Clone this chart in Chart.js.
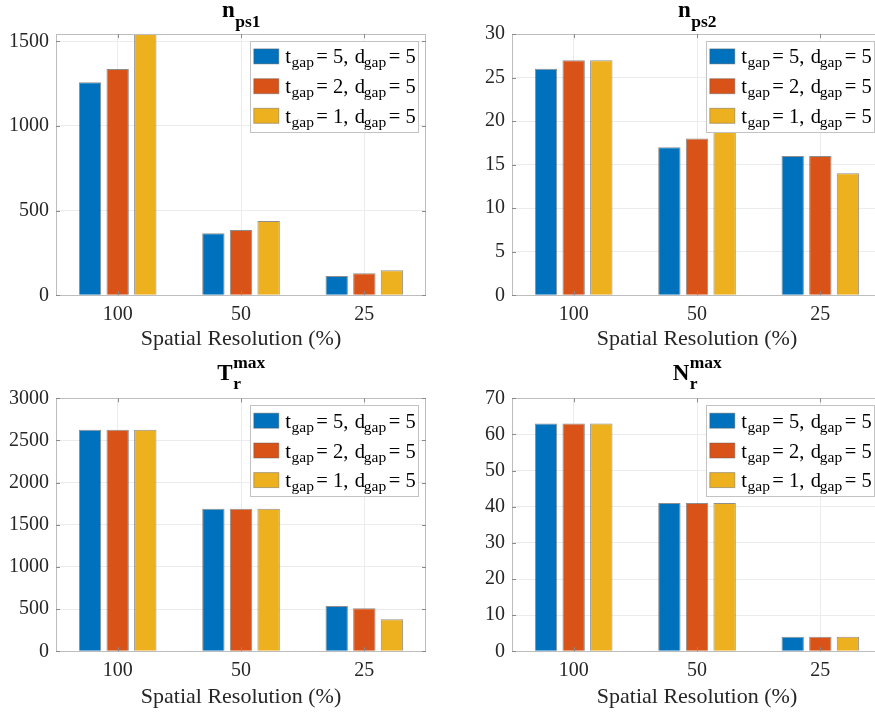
<!DOCTYPE html>
<html><head><meta charset="utf-8">
<script src="https://cdn.jsdelivr.net/npm/chart.js@4/dist/chart.umd.min.js"></script>
<style>
html,body{margin:0;padding:0;background:#fff;overflow:hidden;width:875px;height:713px;position:relative;}
canvas{position:absolute;}
</style></head><body>
<canvas id="c1" width="440" height="355" style="left:0;top:0"></canvas>
<canvas id="c2" width="450" height="355" style="left:440px;top:0"></canvas>
<canvas id="c3" width="440" height="358" style="left:0;top:355px"></canvas>
<canvas id="c4" width="450" height="358" style="left:440px;top:355px"></canvas>
<script>
// ---- data ----
const categories = ['100', '50', '25'];
const tGap = [5, 2, 1];
const dGap = [5, 5, 5];
const xAxisTitle = 'Spatial Resolution (%)';

const nps1_t5 = [1258, 366, 114];
const nps1_t2 = [1336, 386, 130];
const nps1_t1 = [1543, 439, 148];
const nps1Ticks = [0, 500, 1000, 1500];
const nps1Max = 1543;

const nps2_t5 = [26, 17, 16];
const nps2_t2 = [27, 18, 16];
const nps2_t1 = [27, 19, 14];
const nps2Ticks = [0, 5, 10, 15, 20, 25, 30];
const nps2Max = 30;

const Tr_t5 = [2628, 1691, 537];
const Tr_t2 = [2628, 1691, 510];
const Tr_t1 = [2628, 1691, 379];
const TrTicks = [0, 500, 1000, 1500, 2000, 2500, 3000];
const TrMax = 3000;

const Nr_t5 = [63, 41, 4];
const Nr_t2 = [63, 41, 4];
const Nr_t1 = [63, 41, 4];
const NrTicks = [0, 10, 20, 30, 40, 50, 60, 70];
const NrMax = 70;

const colors = ['#0072BD', '#D95319', '#EDB120'];
const SERIF = '"Liberation Serif", "Times New Roman", serif';

// ---- plugins ----
const framePlugin = {
  id: 'frame',
  afterDatasetsDraw(chart) {
    const {ctx, chartArea: a, scales} = chart;
    ctx.save();
    ctx.strokeStyle = '#bdbdbd';
    ctx.lineWidth = 1;
    ctx.strokeRect(Math.round(a.left) + 0.5, Math.round(a.top) + 0.5,
                   Math.round(a.right - a.left) - 1, Math.round(a.bottom - a.top));
    ctx.strokeStyle = '#8a8a8a';
    ctx.beginPath();
    scales.y.ticks.forEach(t => {
      const y = Math.round(scales.y.getPixelForValue(t.value)) + 0.5;
      ctx.moveTo(a.left, y); ctx.lineTo(a.left + 4, y);
      ctx.moveTo(a.right, y); ctx.lineTo(a.right - 4, y);
    });
    categories.forEach((c, i) => {
      const x = Math.round(scales.x.getPixelForValue(i)) + 0.5;
      ctx.moveTo(x, a.bottom); ctx.lineTo(x, a.bottom - 4);
      ctx.moveTo(x, a.top); ctx.lineTo(x, a.top + 4);
    });
    ctx.stroke();
    ctx.restore();
  }
};

const titlePlugin = {
  id: 'mtitle',
  afterDraw(chart, args, opts) {
    const {ctx, chartArea: a} = chart;
    const base = opts.base, sup = opts.sup || '', sub = opts.sub || '';
    ctx.save();
    ctx.fillStyle = '#000';
    ctx.textBaseline = 'alphabetic';
    const bigF = 'bold 23px ' + SERIF, smF = 'bold 17.5px ' + SERIF;
    ctx.font = bigF; const wb = ctx.measureText(base).width;
    ctx.font = smF; const ws = Math.max(ctx.measureText(sup).width, ctx.measureText(sub).width);
    const cx = (a.left + a.right) / 2;
    const x0 = cx - (wb + ws) / 2;
    const by = a.top - opts.gap;
    ctx.font = bigF; ctx.fillText(base, x0, by);
    ctx.font = smF;
    if (sup) ctx.fillText(sup, x0 + wb + 0.5, by - 11.5);
    if (sub) ctx.fillText(sub, x0 + wb + 0.5, by + 9.5);
    ctx.restore();
  }
};

const legendPlugin = {
  id: 'mlegend',
  afterDraw(chart) {
    const {ctx, chartArea: a} = chart;
    const W = 168, H = 91;
    const L = a.right - 7.7 - W, T = a.top + 7;
    ctx.save();
    ctx.fillStyle = '#fff';
    ctx.fillRect(L, T, W, H);
    ctx.strokeStyle = '#c3c3c3';
    ctx.lineWidth = 1;
    ctx.strokeRect(Math.round(L) + 0.5, Math.round(T) + 0.5, W, H);
    const rows = [15.4, 45.2, 74.8];
    rows.forEach((ry, i) => {
      const cy = T + ry;
      ctx.fillStyle = colors[i];
      ctx.fillRect(L + 3.5, cy - 7.5, 25, 15);
      ctx.strokeStyle = 'rgba(90,90,90,0.45)';
      ctx.strokeRect(L + 3.5, cy - 7.5, 25, 15);
      ctx.fillStyle = '#000';
      ctx.textBaseline = 'alphabetic';
      const main = '20.5px ' + SERIF, small = '15.5px ' + SERIF;
      ctx.font = main;
      ctx.fillText('t', L + 35, cy + 7);
      ctx.fillText('= ' + tGap[i] + ',', L + 66, cy + 7);
      ctx.fillText('d', L + 104.5, cy + 7);
      ctx.fillText('= ' + dGap[i], L + 138.5, cy + 7);
      ctx.font = small;
      ctx.fillText('gap', L + 41.3, cy + 11);
      ctx.fillText('gap', L + 113.5, cy + 11);
    });
    ctx.restore();
  }
};

function makeChart(id, series, ticks, ymax, title, area) {
  const cv = document.getElementById(id);
  const W = cv.width, H = cv.height;
  return new Chart(cv, {
    type: 'bar',
    data: {
      labels: categories,
      datasets: series.map((d, i) => ({
        label: 't_gap = ' + tGap[i] + ', d_gap = ' + dGap[i],
        data: d,
        backgroundColor: colors[i],
        borderColor: 'rgba(50,50,50,0.55)',
        borderWidth: 1,
        barPercentage: 0.81,
        categoryPercentage: 0.672
      }))
    },
    options: {
      responsive: false,
      animation: false,
      devicePixelRatio: 1,
      layout: { padding: { left: 0, right: W - area.right, top: area.top, bottom: 0 } },
      plugins: {
        legend: { display: false },
        title: { display: false },
        tooltip: { enabled: false },
        mtitle: title
      },
      scales: {
        x: {
          type: 'category',
          offset: true,
          grid: { color: '#ececec', offset: false, drawTicks: false },
          border: { display: false },
          ticks: { color: '#262626', font: { family: SERIF, size: 20 }, padding: 7, maxRotation: 0 },
          title: { display: true, text: xAxisTitle, color: '#262626',
                   font: { family: SERIF, size: 22 }, padding: { top: 0, bottom: 3 } },
          afterFit: s => { s.height = H - area.bottom; }
        },
        y: {
          min: 0, max: ymax,
          grid: { color: '#ececec', drawTicks: false },
          border: { display: false },
          ticks: { color: '#262626', font: { family: SERIF, size: 20 }, padding: 7,
                   callback: v => String(v) },
          afterBuildTicks: s => { s.ticks = ticks.map(v => ({ value: v })); },
          afterFit: s => { s.width = area.left; }
        }
      }
    },
    plugins: [framePlugin, titlePlugin, legendPlugin]
  });
}

makeChart('c1', [nps1_t5, nps1_t2, nps1_t1], nps1Ticks, nps1Max,
  { base: 'n', sub: 'ps1', gap: 17 }, { left: 56, right: 426, top: 34, bottom: 295.3 });
makeChart('c2', [nps2_t5, nps2_t2, nps2_t1], nps2Ticks, nps2Max,
  { base: 'n', sub: 'ps2', gap: 17 }, { left: 72, right: 442, top: 34, bottom: 295.3 });
makeChart('c3', [Tr_t5, Tr_t2, Tr_t1], TrTicks, TrMax,
  { base: 'T', sup: 'max', sub: 'r', gap: 18.5 }, { left: 56, right: 426, top: 43.3, bottom: 296.3 });
makeChart('c4', [Nr_t5, Nr_t2, Nr_t1], NrTicks, NrMax,
  { base: 'N', sup: 'max', sub: 'r', gap: 18.5 }, { left: 72, right: 442, top: 43.3, bottom: 296.3 });
</script>
</body></html>
